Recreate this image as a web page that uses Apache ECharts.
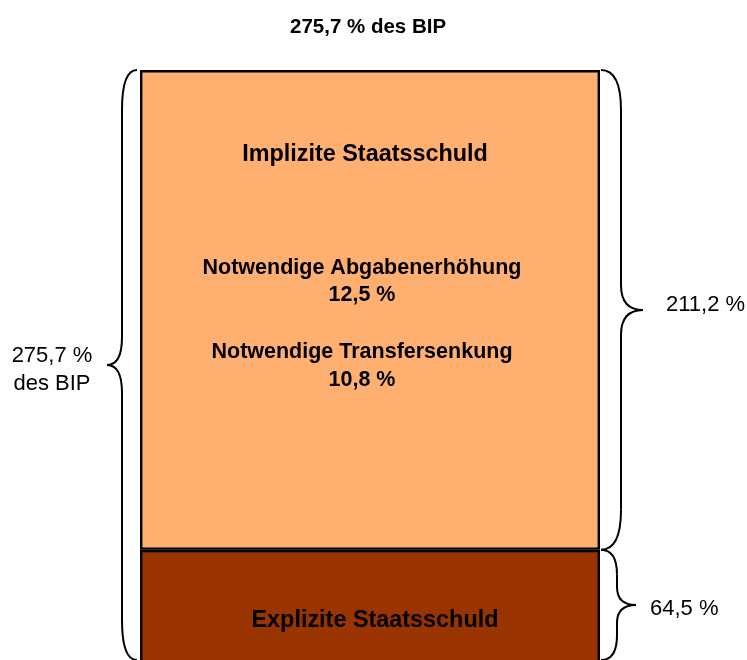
<!DOCTYPE html>
<html>
<head>
<meta charset="utf-8">
<script src="https://cdn.jsdelivr.net/npm/echarts@6/dist/echarts.min.js"></script>
<style>
html, body { margin: 0; padding: 0; background: #fff; }
#chart { width: 747px; height: 660px; }
</style>
</head>
<body>
<div id="chart"></div>
<script>
// Werte in % des BIP
var categories = ['Staatsschuld'];
var explizit = [64.5];
var implizit = [211.2];
var gesamt = [275.7];
var abgabenerhoehung = [12.5];
var transfersenkung = [10.8];
// sichtbarer Ausschnitt: Balken ist unten abgeschnitten
var yMin = 11.6;
var yCut = 16;

function de(v) { return v.toFixed(1).replace('.', ',') + ' %'; }

var font = 'Liberation Sans, Arial, sans-serif';
var gridLeft = 140, gridRight = 147, gridTop = 70;

var myChart = echarts.init(document.getElementById('chart'));
myChart.setOption({
    animation: false,
    title: {
        text: de(gesamt[0]) + ' des BIP',
        left: 285,
        top: 12,
        textStyle: { fontFamily: font, fontSize: 20.5, fontWeight: 'bold', color: '#000' }
    },
    grid: { left: gridLeft, right: gridRight, top: gridTop, height: 600, outerBoundsMode: 'none', containLabel: false },
    xAxis: { type: 'category', data: categories, show: false },
    yAxis: { type: 'value', min: yMin, max: gesamt[0], show: false },
    series: [
        {
            name: 'Explizite Staatsschuld',
            type: 'bar',
            stack: 'schuld',
            barWidth: '100%',
            data: explizit,
            itemStyle: { color: '#993300', borderColor: '#000', borderWidth: 2.4 }
        },
        {
            name: 'Implizite Staatsschuld',
            type: 'bar',
            stack: 'schuld',
            barWidth: '100%',
            data: implizit,
            itemStyle: { color: '#FFB071', borderColor: '#000', borderWidth: 2.4 }
        }
    ]
});

// geschweifte Klammern aus den Achsenpositionen
var yTop = myChart.convertToPixel({ yAxisIndex: 0 }, gesamt[0]);
var yMid = myChart.convertToPixel({ yAxisIndex: 0 }, explizit[0]);
var yBot = myChart.convertToPixel({ yAxisIndex: 0 }, yCut);
var xL = gridLeft, xR = 747 - gridRight;

var lineStyle = { stroke: '#000', lineWidth: 2, fill: null };

function brace(x0, x1, x2, y1, y2, r, r2) {
    var ym = (y1 + y2) / 2;
    var q = function (ax, ay, cx, cy, bx, by) {
        return { type: 'bezierCurve', z: 100, shape: { x1: ax, y1: ay, cpx1: cx, cpy1: cy, x2: bx, y2: by }, style: lineStyle };
    };
    var l = function (ax, ay, bx, by) {
        return { type: 'line', z: 100, shape: { x1: ax, y1: ay, x2: bx, y2: by }, style: lineStyle };
    };
    return [
        q(x0, y1, x1, y1, x1, y1 + r),
        l(x1, y1 + r, x1, ym - r2),
        q(x1, ym - r2, x1, ym, x2, ym),
        q(x2, ym, x1, ym, x1, ym + r2),
        l(x1, ym + r2, x1, y2 - r),
        q(x1, y2 - r, x1, y2, x0, y2)
    ];
}

function txt(x, y, s, size, bold, align) {
    return {
        type: 'text', x: x, y: y, z: 100,
        style: {
            text: s, fill: '#000', font: (bold ? 'bold ' : '') + size + 'px ' + font,
            align: align || 'center', verticalAlign: 'middle'
        }
    };
}

var elements = []
    .concat(brace(xL - 3, xL - 18, xL - 33, yTop, yBot, 40, 28))
    .concat(brace(xR + 1, xR + 21, xR + 43, yTop, yMid, 40, 25))
    .concat(brace(xR + 1, xR + 17, xR + 36, yMid, yBot, 25, 18))
    .concat([
        txt(365, 155, 'Implizite Staatsschuld', 23.4, true),
        txt(362, 268, 'Notwendige Abgabenerhöhung', 21.5, true),
        txt(362, 295, de(abgabenerhoehung[0]), 21.5, true),
        txt(362, 352, 'Notwendige Transfersenkung', 21.5, true),
        txt(362, 380, de(transfersenkung[0]), 21.5, true),
        txt(375, 621, 'Explizite Staatsschuld', 23.4, true),
        txt(666, 305, de(implizit[0]), 22, false, 'left'),
        txt(650, 609, de(explizit[0]), 22, false, 'left'),
        txt(52, 356, de(gesamt[0]), 22, false),
        txt(52, 384, 'des BIP', 22, false)
    ]);

myChart.setOption({ graphic: elements });
</script>
</body>
</html>
